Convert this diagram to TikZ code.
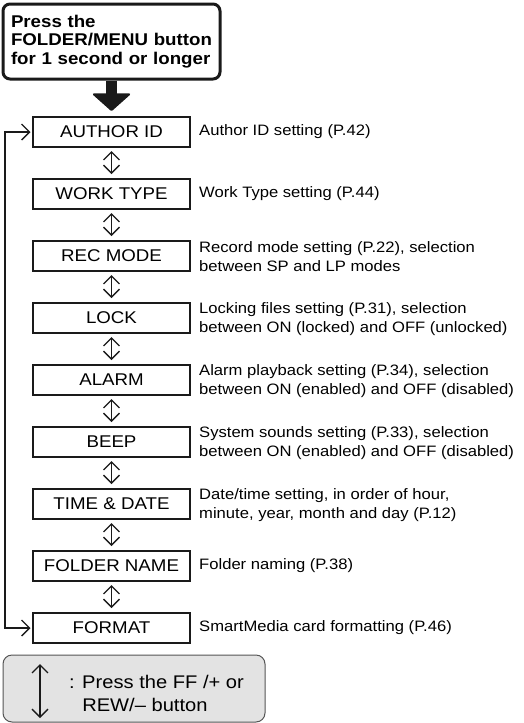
\documentclass[tikz,border=0pt]{standalone}
\usepackage{fontspec}
\setmainfont{Liberation Sans}[FakeStretch=1.1]
\usepackage{tikz}
\usetikzlibrary{arrows.meta, positioning}
\usepackage{xcolor}
\definecolor{MenuBlack}{HTML}{1A1A1A}
\definecolor{LegendGray}{HTML}{E3E3E3}
\definecolor{LegendEdge}{HTML}{555555}
\tikzset{
    % Box styles
    startbox/.style={
        rectangle,
        rounded corners=7pt,
        draw=MenuBlack,
        line width=3pt,
        minimum width=217pt,
        minimum height=75pt,
        text width=201pt,
        inner xsep=8pt,
        align=left,
        font=\fontsize{17}{18.5}\selectfont\bfseries
    },
    menubox/.style={
        rectangle,
        draw=MenuBlack,
        line width=2pt,
        minimum width=157pt,
        minimum height=30pt,
        inner sep=0pt,
        align=center,
        font=\fontsize{17}{20}\selectfont
    },
    descr/.style={
        anchor=west,
        inner sep=0pt,
        align=left,
        font=\fontsize{15.1}{19}\selectfont
    },
    legendbox/.style={
        rectangle,
        rounded corners=9pt,
        draw=LegendEdge,
        fill=LegendGray,
        line width=1pt,
        minimum width=262pt,
        minimum height=67pt
    },
    % Arrow styles
    bigarrow/.style={
        -{Triangle[length=18pt,width=40pt,line width=2pt,round]},
        line width=11pt,
        draw=MenuBlack,
        shorten >=5pt
    },
    updown/.style={
        {Straight Barb[length=8pt,width=16pt]}-{Straight Barb[length=8pt,width=16pt]},
        line width=1.3pt,
        draw=MenuBlack,
        shorten <=3pt,
        shorten >=4pt
    },
    loopline/.style={
        {Straight Barb[length=8pt,width=16pt]}-{Straight Barb[length=8pt,width=16pt]},
        line width=1.3pt,
        draw=MenuBlack,
        shorten <=1.5pt,
        shorten >=1.5pt
    }
}

\begin{document}
\begin{tikzpicture}[x=1pt, y=-1pt]
    \useasboundingbox (0,0) rectangle (523,723);

    \node[startbox] (press) at (111.5,41.5) {Press the\\FOLDER/MENU button\\for 1 second or longer};

    \node[menubox] (author) at (111.5,132) {AUTHOR ID};
    \node[descr] (authord) at (199,132) {Author ID setting (P.42)};

    \node[menubox] (work) at (111.5,194) {WORK TYPE};
    \node[descr] (workd) at (199,194) {Work Type setting (P.44)};

    \node[menubox] (rec) at (111.5,256) {REC MODE};
    \node[descr] (recd) at (199,257) {Record mode setting (P.22), selection\\between SP and LP modes};

    \node[menubox] (lock) at (111.5,318) {LOCK};
    \node[descr] (lockd) at (199,319) {Locking files setting (P.31), selection\\between ON (locked) and OFF (unlocked)};

    \node[menubox] (alarm) at (111.5,380) {ALARM};
    \node[descr] (alarmd) at (199,381) {Alarm playback setting (P.34), selection\\between ON (enabled) and OFF (disabled)};

    \node[menubox] (beep) at (111.5,442) {BEEP};
    \node[descr] (beepd) at (199,443) {System sounds setting (P.33), selection\\between ON (enabled) and OFF (disabled)};

    \node[menubox] (time) at (111.5,504) {TIME \& DATE};
    \node[descr] (timed) at (199,505) {Date/time setting, in order of hour,\\minute, year, month and day (P.12)};

    \node[menubox] (folder) at (111.5,566) {FOLDER NAME};
    \node[descr] (folderd) at (199,566) {Folder naming (P.38)};

    \node[menubox] (format) at (111.5,628) {FORMAT};
    \node[descr] (formatd) at (199,628) {SmartMedia card formatting (P.46)};

    % legend
    \node[legendbox] (legend) at (134,688.5) {};
    \node[descr, font=\fontsize{18.3}{23}\selectfont] (legendt) at (69,693) {: Press the FF /+ or\\\phantom{: }REW/– button};
    \coordinate (legtop) at (40,664);
    \coordinate (legbot) at (40,718);

    \draw[bigarrow] (press.south) -- (author.north);
    \draw[updown] (author.south) -- (work.north);
    \draw[updown] (work.south) -- (rec.north);
    \draw[updown] (rec.south) -- (lock.north);
    \draw[updown] (lock.south) -- (alarm.north);
    \draw[updown] (alarm.south) -- (beep.north);
    \draw[updown] (beep.south) -- (time.north);
    \draw[updown] (time.south) -- (folder.north);
    \draw[updown] (folder.south) -- (format.north);
    \draw[loopline] (author.west) -- ++(-27,0) |- (format.west);
    \draw[updown, shorten <=0pt, shorten >=0pt] (legtop) -- (legbot);
\end{tikzpicture}
\end{document}
